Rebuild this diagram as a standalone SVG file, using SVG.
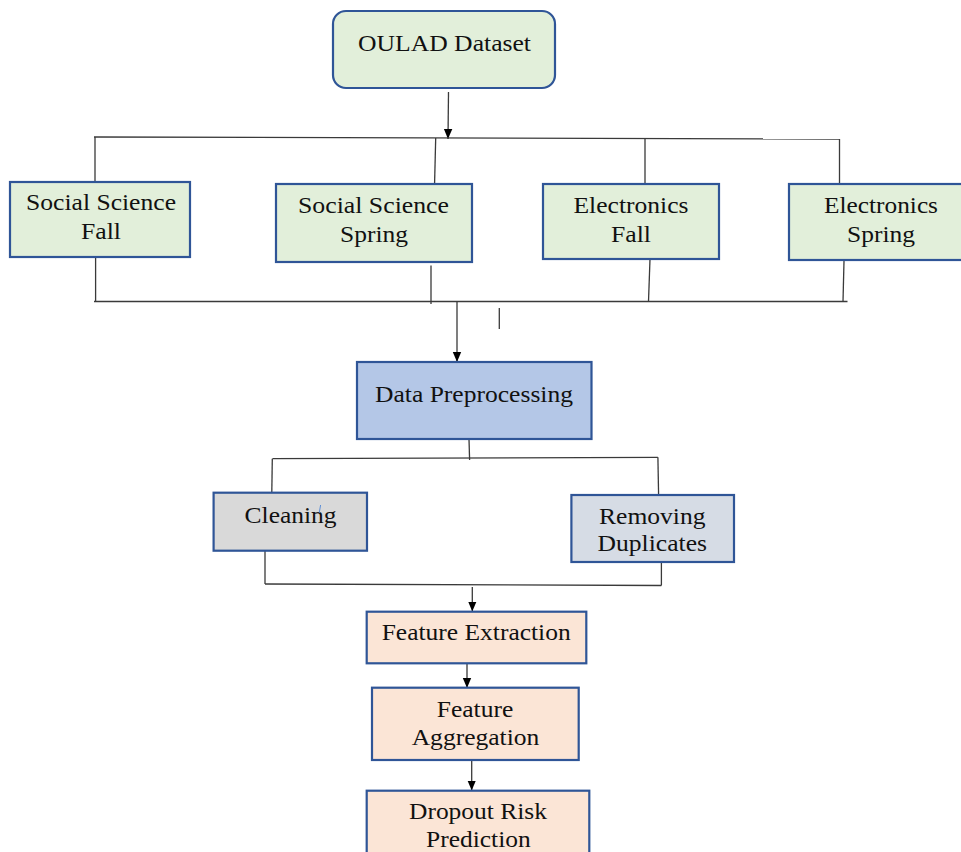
<svg xmlns="http://www.w3.org/2000/svg" width="961" height="852" viewBox="0 0 961 852">
<style>
.box{stroke:#2f5597;stroke-width:2.2}
.green{fill:#e2efda}
.blue{fill:#b4c7e7}
.gray{fill:#d9d9d9}
.slate{fill:#d6dce5}
.peach{fill:#fbe5d6}
.t{font-family:"Liberation Serif","Times New Roman",serif;font-size:22.5px;fill:#111}
.c{fill:none;stroke:#3a3a3a;stroke-width:1.3}
</style>
<defs>
<marker id="ah" markerUnits="userSpaceOnUse" markerWidth="10" markerHeight="10" refX="10" refY="5" orient="auto">
<path d="M0,0.8 L10,5 L0,9.2 z" fill="#000"/>
</marker>
</defs>
<g id="connectors">
<line class="c" x1="448.5" y1="92" x2="448" y2="139" marker-end="url(#ah)"/>
<polyline class="c" points="94,137 839.5,139"/>
<line class="c" x1="95" y1="137" x2="95" y2="182"/>
<line class="c" x1="435.7" y1="138" x2="434.5" y2="187"/>
<line class="c" x1="645" y1="139" x2="645" y2="184"/>
<line class="c" x1="839.5" y1="139" x2="839.5" y2="184"/>
<line class="c" x1="94" y1="301.5" x2="847.5" y2="301.5"/>
<line class="c" x1="95.6" y1="257" x2="95.6" y2="301.5"/>
<line class="c" x1="431" y1="265.5" x2="431" y2="304"/>
<line class="c" x1="650" y1="259" x2="648.5" y2="301.5"/>
<line class="c" x1="844" y1="261" x2="843" y2="301.5"/>
<line class="c" x1="457" y1="301.5" x2="457" y2="362" marker-end="url(#ah)"/>
<line class="c" x1="499.3" y1="308" x2="499.3" y2="329"/>
<line class="c" x1="469" y1="439" x2="469.6" y2="460"/>
<line class="c" x1="272.5" y1="458.7" x2="657.9" y2="457.3"/>
<line class="c" x1="272.3" y1="458.7" x2="271.8" y2="492"/>
<line class="c" x1="657.9" y1="457.3" x2="658.6" y2="495"/>
<line class="c" x1="265" y1="551" x2="265" y2="584"/>
<line class="c" x1="661.4" y1="562" x2="661.4" y2="585.5"/>
<line class="c" x1="265" y1="584" x2="661.4" y2="585.5"/>
<line class="c" x1="472.3" y1="587" x2="472.3" y2="611.5" marker-end="url(#ah)"/>
<line class="c" x1="467" y1="663.5" x2="467" y2="688" marker-end="url(#ah)"/>
<line class="c" x1="471.7" y1="760" x2="471.7" y2="790.5" marker-end="url(#ah)"/>
</g>
<g id="oulad">
<rect class="box green" x="333" y="11" width="222" height="77" rx="13"/>
<text class="t" x="358" y="50.5" textLength="173" lengthAdjust="spacingAndGlyphs">OULAD Dataset</text>
</g>
<g id="ss-fall">
<rect class="box green" x="10" y="182" width="180" height="75"/>
<text class="t" x="26" y="210" textLength="150" lengthAdjust="spacingAndGlyphs">Social Science</text>
<text class="t" x="81" y="239" textLength="40" lengthAdjust="spacingAndGlyphs">Fall</text>
</g>
<g id="ss-spring">
<rect class="box green" x="276" y="184" width="196" height="78"/>
<text class="t" x="298" y="213" textLength="151" lengthAdjust="spacingAndGlyphs">Social Science</text>
<text class="t" x="340" y="242" textLength="68" lengthAdjust="spacingAndGlyphs">Spring</text>
</g>
<g id="el-fall">
<rect class="box green" x="543" y="184" width="176" height="75"/>
<text class="t" x="573.5" y="213" textLength="115" lengthAdjust="spacingAndGlyphs">Electronics</text>
<text class="t" x="611" y="242" textLength="40" lengthAdjust="spacingAndGlyphs">Fall</text>
</g>
<g id="el-spring">
<rect class="box green" x="789" y="184" width="180" height="76"/>
<text class="t" x="824" y="213" textLength="114" lengthAdjust="spacingAndGlyphs">Electronics</text>
<text class="t" x="847" y="242" textLength="68" lengthAdjust="spacingAndGlyphs">Spring</text>
</g>
<g id="preprocessing">
<rect class="box blue" x="357" y="362" width="234.5" height="77"/>
<text class="t" x="375" y="401.5" textLength="198" lengthAdjust="spacingAndGlyphs">Data Preprocessing</text>
</g>
<g id="cleaning">
<rect class="box gray" x="213.6" y="492.7" width="153.4" height="58"/>
<text class="t" x="244.6" y="523" textLength="92" lengthAdjust="spacingAndGlyphs">Cleaning</text>
<line x1="320.6" y1="505" x2="319.2" y2="513" stroke="#5b8ed6" stroke-width="1"/>
</g>
<g id="removing">
<rect class="box slate" x="571.4" y="495" width="162.6" height="67"/>
<text class="t" x="599" y="524" textLength="106.5" lengthAdjust="spacingAndGlyphs">Removing</text>
<text class="t" x="597.5" y="551" textLength="109.5" lengthAdjust="spacingAndGlyphs">Duplicates</text>
</g>
<g id="extraction">
<rect class="box peach" x="366.7" y="611.7" width="219.6" height="51.6"/>
<text class="t" x="381.7" y="640" textLength="189" lengthAdjust="spacingAndGlyphs">Feature Extraction</text>
</g>
<g id="aggregation">
<rect class="box peach" x="372" y="687.7" width="206.7" height="72.3"/>
<text class="t" x="436.7" y="716.7" textLength="76.6" lengthAdjust="spacingAndGlyphs">Feature</text>
<text class="t" x="411.7" y="745" textLength="127.6" lengthAdjust="spacingAndGlyphs">Aggregation</text>
</g>
<g id="prediction">
<rect class="box peach" x="366.7" y="790.7" width="222.6" height="70"/>
<text class="t" x="409" y="819.3" textLength="138" lengthAdjust="spacingAndGlyphs">Dropout Risk</text>
<text class="t" x="426" y="846.7" textLength="104.7" lengthAdjust="spacingAndGlyphs">Prediction</text>
</g>
</svg>
